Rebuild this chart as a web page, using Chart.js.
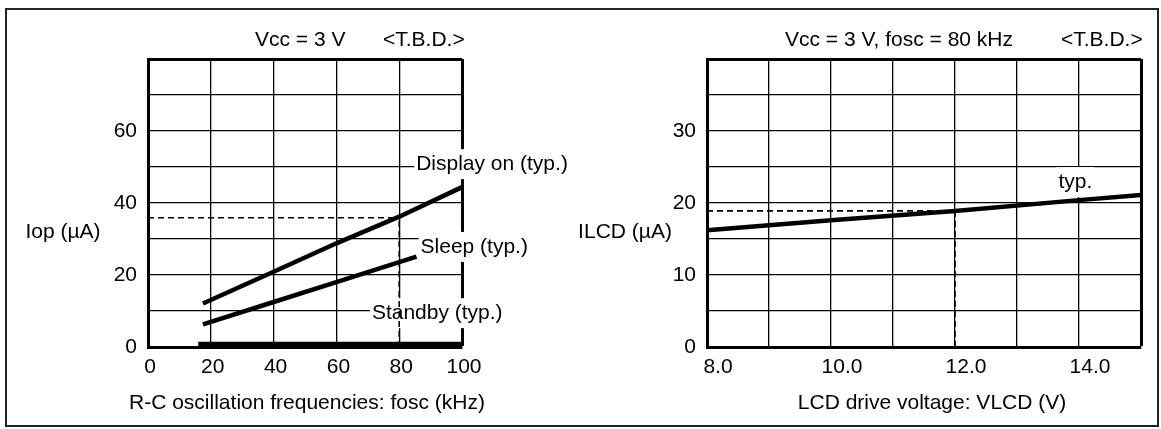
<!DOCTYPE html>
<html>
<head>
<meta charset="utf-8">
<script src="https://cdn.jsdelivr.net/npm/chart.js@4.4.0/dist/chart.umd.min.js"></script>
<style>
  html, body { margin: 0; padding: 0; background: #fff; }
  #page { position: relative; width: 1161px; height: 429px; overflow: hidden; }
  #frame { position: absolute; left: 5px; top: 8px; width: 1150px; height: 415px; border: 2px solid #222; }
  .panel { position: absolute; top: 0; height: 429px; }
  #leftPanel { left: 0; width: 580px; }
  #rightPanel { left: 570px; width: 591px; }
</style>
</head>
<body>
<div id="page">
  <div id="frame"></div>
  <div class="panel" id="leftPanel"><canvas id="iopChart"></canvas></div>
  <div class="panel" id="rightPanel"><canvas id="ilcdChart"></canvas></div>
</div>
<script>
// ==================== DATA ====================
// Left: operating current vs R-C oscillation frequency
const displayFosc = [17.5, 40, 60, 80, 100];
const displayIop = [12.1, 20.9, 28.8, 36.2, 44.4];
const sleepFosc = [17.5, 40, 60, 80, 85.5];
const sleepIop = [6.3, 12.5, 18.0, 23.6, 25.1];
const standbyFosc = [16, 100];
const standbyIop = [0.7, 0.7];
const guideFosc = 80;
const guideIop = 35.9;
const foscTicks = [0, 20, 40, 60, 80, 100];
const iopTicks = [0, 20, 40, 60];

// Right: LCD current vs LCD drive voltage
const vlcd = [8, 10, 12, 14, 15];
const ilcd = [16.2, 17.6, 18.9, 20.4, 21.1];
const guideVlcd = 12;
const guideIlcd = 18.9;
const vlcdTicks = [8, 10, 12, 14];
const ilcdTicks = [0, 10, 20, 30];

// ==================== HELPERS ====================
const FONT_FAMILY = "'Liberation Sans', Arial, Helvetica, sans-serif";
const FONT_SIZE = 21;
const CSS_FONT = FONT_SIZE + 'px ' + FONT_FAMILY;

function zip(xs, ys) {
    return xs.map((x, i) => ({ x: x, y: ys[i] }));
}

function solid(data, width) {
    return { data: data, showLine: true, borderColor: '#000', borderWidth: width, pointRadius: 0, fill: false, tension: 0 };
}

function dashed(data) {
    return { data: data, showLine: true, borderColor: '#000', borderWidth: 1.6, borderDash: [6, 4], pointRadius: 0, fill: false };
}

// text labels drawn on the canvas (white box first so grid lines stop at the text)
const notesPlugin = {
    id: 'notes',
    beforeDatasetsDraw(chart, args, opts) {
        const ctx = chart.ctx;
        ctx.save();
        ctx.font = CSS_FONT;
        (opts.items || []).forEach(n => {
            if (!n.box) return;
            const p = notePos(chart, n);
            const w = ctx.measureText(n.text).width;
            ctx.fillStyle = '#fff';
            ctx.fillRect(p.x - 2, p.y - 15, w + 4, 30);
        });
        ctx.restore();
    },
    afterDatasetsDraw(chart, args, opts) {
        const ctx = chart.ctx;
        ctx.save();
        ctx.font = CSS_FONT;
        ctx.fillStyle = '#000';
        ctx.textBaseline = 'middle';
        ctx.textAlign = 'left';
        (opts.items || []).forEach(n => {
            const p = notePos(chart, n);
            ctx.textAlign = n.align || 'left';
            ctx.fillText(n.text, p.x, p.y);
        });
        ctx.restore();
    }
};

function notePos(chart, n) {
    if (n.px !== undefined) return { x: n.px, y: n.py };
    return { x: chart.scales.x.getPixelForValue(n.x), y: chart.scales.y.getPixelForValue(n.y) };
}

function axisOptions(cfg) {
    const font = { family: FONT_FAMILY, size: FONT_SIZE };
    return {
        x: {
            type: 'linear',
            min: cfg.xMin, max: cfg.xMax,
            afterFit: s => { s.height = 82; },
            border: { display: true, color: '#000', width: 3 },
            grid: {
                color: '#000',
                drawTicks: false,
                lineWidth: c => (c.tick && c.tick.value === cfg.xMax ? 3 : 1.3)
            },
            ticks: {
                stepSize: cfg.xStep,
                autoSkip: false,
                maxRotation: 0,
                padding: 8,
                labelOffset: cfg.xLabelOffset,
                color: '#000',
                font: font,
                callback: v => (cfg.xLabels.includes(v) ? cfg.xFormat(v) : '')
            }
        },
        y: {
            type: 'linear',
            min: 0, max: cfg.yMax,
            afterFit: s => { s.width = cfg.yWidth; },
            border: { display: true, color: '#000', width: 3 },
            grid: {
                color: '#000',
                drawTicks: false,
                lineWidth: c => (c.tick && c.tick.value === cfg.yMax ? 3 : 1.3)
            },
            ticks: {
                stepSize: cfg.yStep,
                autoSkip: false,
                padding: 11,
                color: '#000',
                font: font,
                callback: v => (cfg.yLabels.includes(v) ? String(v) : '')
            }
        }
    };
}

// ==================== LEFT CHART ====================
new Chart(document.getElementById('iopChart'), {
    type: 'scatter',
    data: {
        datasets: [
            dashed([{ x: 0, y: guideIop }, { x: guideFosc, y: guideIop }]),
            dashed([{ x: guideFosc, y: 0 }, { x: guideFosc, y: guideIop }]),
            solid(zip(displayFosc, displayIop), 4.5),
            solid(zip(sleepFosc, sleepIop), 4.5),
            solid(zip(standbyFosc, standbyIop), 5.5)
        ]
    },
    options: {
        responsive: true,
        maintainAspectRatio: false,
        animation: false,
        layout: { padding: { left: 0, right: 118, top: 59, bottom: 0 } },
        plugins: {
            legend: { display: false },
            tooltip: { enabled: false },
            notes: {
                items: [
                    { text: 'Vcc = 3 V', px: 255, py: 40 },
                    { text: '<T.B.D.>', px: 383, py: 40 },
                    { text: 'Iop (\u00b5A)', px: 63, py: 232, align: 'center' },
                    { text: 'R-C oscillation frequencies: fosc (kHz)', px: 307, py: 403, align: 'center' },
                    { text: 'Display on (typ.)', x: 85.4, y: 50.8, box: true },
                    { text: 'Sleep (typ.)', x: 86.8, y: 27.8, box: true },
                    { text: 'Standby (typ.)', x: 71.3, y: 9.4, box: true }
                ]
            }
        },
        scales: axisOptions({
            xMin: 0, xMax: 100, xStep: 20, xLabels: foscTicks, xLabelOffset: 2,
            xFormat: v => String(v),
            yMax: 80, yStep: 10, yLabels: iopTicks, yWidth: 148
        })
    },
    plugins: [notesPlugin]
});

// ==================== RIGHT CHART ====================
new Chart(document.getElementById('ilcdChart'), {
    type: 'scatter',
    data: {
        datasets: [
            dashed([{ x: 8, y: guideIlcd }, { x: guideVlcd, y: guideIlcd }]),
            dashed([{ x: guideVlcd, y: 0 }, { x: guideVlcd, y: guideIlcd }]),
            solid(zip(vlcd, ilcd), 4.5)
        ]
    },
    options: {
        responsive: true,
        maintainAspectRatio: false,
        animation: false,
        layout: { padding: { left: 0, right: 20, top: 59, bottom: 0 } },
        plugins: {
            legend: { display: false },
            tooltip: { enabled: false },
            notes: {
                items: [
                    { text: 'Vcc = 3 V, fosc = 80 kHz', px: 215, py: 40 },
                    { text: '<T.B.D.>', px: 491, py: 40 },
                    { text: 'ILCD (\u00b5A)', px: 55, py: 232, align: 'center' },
                    { text: 'LCD drive voltage: VLCD (V)', px: 362, py: 403, align: 'center' },
                    { text: 'typ.', x: 13.67, y: 22.9, box: true }
                ]
            }
        },
        scales: axisOptions({
            xMin: 8, xMax: 15, xStep: 1, xLabels: vlcdTicks, xLabelOffset: 11,
            xFormat: v => v.toFixed(1),
            yMax: 40, yStep: 5, yLabels: ilcdTicks, yWidth: 137
        })
    },
    plugins: [notesPlugin]
});
</script>
</body>
</html>
